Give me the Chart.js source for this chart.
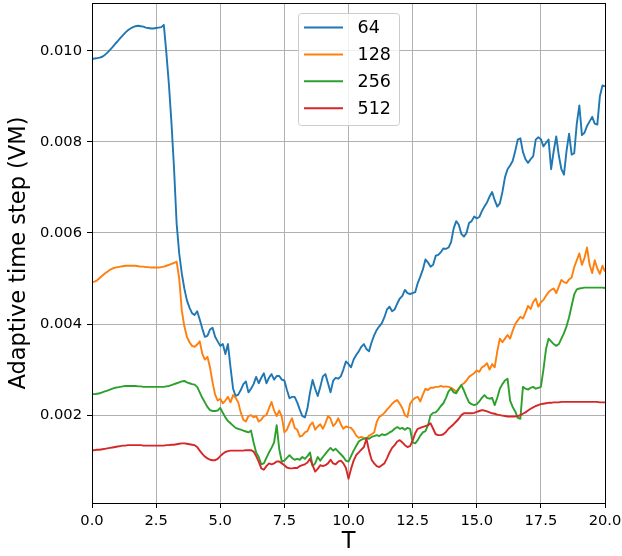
<!DOCTYPE html>
<html>
<head>
<meta charset="utf-8">
<title>Adaptive time step</title>
<script src="https://cdn.jsdelivr.net/npm/chart.js@4.4.1/dist/chart.umd.min.js"></script>
<style>
  html, body { margin: 0; padding: 0; background: #fff; }
  #wrap { width: 622px; height: 556px; }
</style>
</head>
<body>
<div id="wrap"><canvas id="chart" width="622" height="556"></canvas></div>
<script>
// sampling grid: T = 0.0, 0.1, ... 20.0
const T = Array.from({ length: 201 }, (_, i) => i / 10);

const seriesNames = ['64', '128', '256', '512'];
const xTicks = [0, 2.5, 5, 7.5, 10, 12.5, 15, 17.5, 20];
const yTicks = [0.002, 0.004, 0.006, 0.008, 0.010];

// values, one row per unit of T
const dt64 = [
  0.00982, 0.00983, 0.00984, 0.00985, 0.00987, 0.00991, 0.00996, 0.01002, 0.01008, 0.01015,
  0.01021, 0.01028, 0.01034, 0.01040, 0.01045, 0.01049, 0.01052, 0.01054, 0.01055, 0.01054,
  0.01053, 0.01051, 0.01050, 0.01049, 0.01049, 0.01050, 0.01051, 0.01052, 0.01057, 0.00995,
  0.00925, 0.00840, 0.00740, 0.00620, 0.00555, 0.00511, 0.00478, 0.00452, 0.00436, 0.00424,
  0.00420, 0.00428, 0.00410, 0.00390, 0.00372, 0.00374, 0.00388, 0.00392, 0.00372, 0.00362,
  0.00352, 0.00356, 0.00334, 0.00356, 0.00305, 0.00258, 0.00242, 0.00245, 0.00255, 0.00268,
  0.00274, 0.00250, 0.00258, 0.00268, 0.00284, 0.00270, 0.00282, 0.00292, 0.00270, 0.00282,
  0.00290, 0.00278, 0.00286, 0.00286, 0.00278, 0.00276, 0.00255, 0.00237, 0.00240, 0.00240,
  0.00228, 0.00212, 0.00198, 0.00195, 0.00215, 0.00250, 0.00277, 0.00258, 0.00242, 0.00262,
  0.00285, 0.00290, 0.00270, 0.00250, 0.00275, 0.00282, 0.00280, 0.00285, 0.00300, 0.00318,
  0.00312, 0.00305, 0.00322, 0.00332, 0.00340, 0.00350, 0.00356, 0.00345, 0.00340, 0.00360,
  0.00375, 0.00387, 0.00395, 0.00402, 0.00415, 0.00432, 0.00438, 0.00428, 0.00432, 0.00445,
  0.00456, 0.00462, 0.00475, 0.00468, 0.00466, 0.00468, 0.00470, 0.00490, 0.00504, 0.00520,
  0.00542, 0.00535, 0.00526, 0.00530, 0.00550, 0.00552, 0.00558, 0.00566, 0.00565, 0.00568,
  0.00580, 0.00610, 0.00626, 0.00618, 0.00598, 0.00592, 0.00600, 0.00622, 0.00626, 0.00636,
  0.00632, 0.00635, 0.00648, 0.00658, 0.00667, 0.00680, 0.00690, 0.00672, 0.00658, 0.00665,
  0.00690, 0.00722, 0.00740, 0.00748, 0.00758, 0.00780, 0.00805, 0.00808, 0.00778, 0.00762,
  0.00754, 0.00762, 0.00768, 0.00805, 0.00810, 0.00806, 0.00790, 0.00798, 0.00805, 0.00740,
  0.00780, 0.00812, 0.00770, 0.00740, 0.00728, 0.00780, 0.00818, 0.00772, 0.00775, 0.00840,
  0.00880, 0.00815, 0.00820, 0.00835, 0.00845, 0.00855, 0.00840, 0.00838, 0.00900, 0.00924,
  0.00922
];

const dt128 = [
  0.00492, 0.00493, 0.00496, 0.00501, 0.00506, 0.00511, 0.00515, 0.00519, 0.00522, 0.00524,
  0.00525, 0.00526, 0.00527, 0.00528, 0.00528, 0.00528, 0.00528, 0.00528, 0.00527, 0.00526,
  0.00526, 0.00525, 0.00525, 0.00524, 0.00524, 0.00524, 0.00524, 0.00525, 0.00526, 0.00528,
  0.00530, 0.00532, 0.00534, 0.00537, 0.00500, 0.00430, 0.00395, 0.00372, 0.00360, 0.00352,
  0.00350, 0.00355, 0.00362, 0.00335, 0.00322, 0.00328, 0.00305, 0.00272, 0.00245, 0.00232,
  0.00236, 0.00226, 0.00232, 0.00240, 0.00228, 0.00244, 0.00238, 0.00228, 0.00206, 0.00190,
  0.00186, 0.00198, 0.00200, 0.00195, 0.00198, 0.00186, 0.00190, 0.00198, 0.00200, 0.00215,
  0.00229, 0.00210, 0.00198, 0.00210, 0.00196, 0.00162, 0.00168, 0.00182, 0.00193, 0.00172,
  0.00168, 0.00153, 0.00155, 0.00162, 0.00165, 0.00178, 0.00184, 0.00168, 0.00175, 0.00180,
  0.00170, 0.00182, 0.00198, 0.00192, 0.00176, 0.00182, 0.00193, 0.00180, 0.00170, 0.00175,
  0.00173, 0.00172, 0.00165, 0.00155, 0.00150, 0.00152, 0.00150, 0.00148, 0.00155, 0.00158,
  0.00162, 0.00185, 0.00196, 0.00200, 0.00205, 0.00212, 0.00218, 0.00225, 0.00230, 0.00233,
  0.00225, 0.00215, 0.00200, 0.00196, 0.00225, 0.00233, 0.00238, 0.00240, 0.00230, 0.00245,
  0.00258, 0.00255, 0.00260, 0.00260, 0.00262, 0.00262, 0.00264, 0.00262, 0.00263, 0.00262,
  0.00260, 0.00256, 0.00252, 0.00258, 0.00266, 0.00270, 0.00276, 0.00284, 0.00288, 0.00292,
  0.00298, 0.00295, 0.00305, 0.00308, 0.00314, 0.00300, 0.00312, 0.00305, 0.00340, 0.00368,
  0.00360, 0.00368, 0.00376, 0.00368, 0.00385, 0.00400, 0.00408, 0.00416, 0.00412, 0.00425,
  0.00440, 0.00433, 0.00448, 0.00456, 0.00438, 0.00448, 0.00453, 0.00462, 0.00470, 0.00475,
  0.00478, 0.00468, 0.00482, 0.00497, 0.00492, 0.00490, 0.00498, 0.00502, 0.00525, 0.00540,
  0.00555, 0.00530, 0.00545, 0.00568, 0.00530, 0.00512, 0.00540, 0.00522, 0.00510, 0.00528,
  0.00515
];

const dt256 = [
  0.00246, 0.00246, 0.00247, 0.00248, 0.00250, 0.00252, 0.00254, 0.00256, 0.00258, 0.00260,
  0.00261, 0.00262, 0.00263, 0.00264, 0.00264, 0.00264, 0.00264, 0.00264, 0.00263, 0.00263,
  0.00262, 0.00262, 0.00262, 0.00262, 0.00262, 0.00262, 0.00262, 0.00262, 0.00262, 0.00263,
  0.00264, 0.00266, 0.00268, 0.00270, 0.00272, 0.00274, 0.00275, 0.00272, 0.00270, 0.00268,
  0.00267, 0.00262, 0.00250, 0.00238, 0.00228, 0.00218, 0.00211, 0.00209, 0.00209, 0.00210,
  0.00216, 0.00205, 0.00195, 0.00187, 0.00182, 0.00177, 0.00172, 0.00170, 0.00168, 0.00166,
  0.00164, 0.00162, 0.00166, 0.00140, 0.00118, 0.00108, 0.00092, 0.00094, 0.00106, 0.00118,
  0.00128, 0.00140, 0.00178, 0.00125, 0.00098, 0.00100, 0.00106, 0.00112, 0.00106, 0.00102,
  0.00104, 0.00102, 0.00108, 0.00104, 0.00110, 0.00118, 0.00088, 0.00094, 0.00108, 0.00100,
  0.00108, 0.00115, 0.00122, 0.00128, 0.00122, 0.00126, 0.00120, 0.00114, 0.00108, 0.00100,
  0.00098, 0.00110, 0.00122, 0.00132, 0.00142, 0.00146, 0.00148, 0.00150, 0.00148, 0.00152,
  0.00154, 0.00156, 0.00154, 0.00158, 0.00156, 0.00158, 0.00162, 0.00165, 0.00170, 0.00174,
  0.00170, 0.00172, 0.00168, 0.00172, 0.00170, 0.00140, 0.00138, 0.00145, 0.00155, 0.00162,
  0.00165, 0.00178, 0.00200, 0.00205, 0.00206, 0.00212, 0.00220, 0.00226, 0.00238, 0.00252,
  0.00258, 0.00250, 0.00248, 0.00258, 0.00266, 0.00254, 0.00240, 0.00228, 0.00224, 0.00222,
  0.00224, 0.00230, 0.00238, 0.00244, 0.00238, 0.00236, 0.00238, 0.00222, 0.00238, 0.00258,
  0.00268, 0.00276, 0.00280, 0.00232, 0.00218, 0.00208, 0.00194, 0.00192, 0.00262, 0.00258,
  0.00256, 0.00260, 0.00262, 0.00258, 0.00260, 0.00262, 0.00300, 0.00345, 0.00368, 0.00362,
  0.00356, 0.00352, 0.00356, 0.00368, 0.00380, 0.00395, 0.00415, 0.00440, 0.00465, 0.00476,
  0.00478, 0.00479, 0.00480, 0.00480, 0.00480, 0.00480, 0.00480, 0.00480, 0.00480, 0.00480,
  0.00479
];

const dt512 = [
  0.00123, 0.00123, 0.00124, 0.00124, 0.00125, 0.00126, 0.00127, 0.00128, 0.00129, 0.00130,
  0.00131, 0.00132, 0.00133, 0.00133, 0.00134, 0.00134, 0.00134, 0.00134, 0.00134, 0.00134,
  0.00133, 0.00133, 0.00133, 0.00133, 0.00133, 0.00133, 0.00133, 0.00133, 0.00133, 0.00134,
  0.00134, 0.00135, 0.00135, 0.00136, 0.00137, 0.00138, 0.00138, 0.00137, 0.00136, 0.00135,
  0.00134, 0.00130, 0.00122, 0.00115, 0.00109, 0.00105, 0.00102, 0.00101, 0.00101, 0.00104,
  0.00110, 0.00115, 0.00119, 0.00121, 0.00122, 0.00122, 0.00122, 0.00122, 0.00122, 0.00122,
  0.00123, 0.00123, 0.00123, 0.00120, 0.00110, 0.00098, 0.00083, 0.00080, 0.00088, 0.00094,
  0.00092, 0.00094, 0.00098, 0.00098, 0.00094, 0.00090, 0.00085, 0.00083, 0.00083, 0.00084,
  0.00084, 0.00088, 0.00090, 0.00092, 0.00096, 0.00104, 0.00090, 0.00076, 0.00082, 0.00090,
  0.00088, 0.00090, 0.00094, 0.00102, 0.00094, 0.00092, 0.00098, 0.00100, 0.00094, 0.00084,
  0.00060, 0.00082, 0.00100, 0.00112, 0.00118, 0.00124, 0.00130, 0.00148, 0.00122, 0.00102,
  0.00094, 0.00088, 0.00086, 0.00090, 0.00094, 0.00105, 0.00118, 0.00128, 0.00134, 0.00142,
  0.00145, 0.00140, 0.00134, 0.00130, 0.00132, 0.00144, 0.00160, 0.00170, 0.00172, 0.00174,
  0.00176, 0.00178, 0.00182, 0.00170, 0.00158, 0.00156, 0.00156, 0.00158, 0.00163, 0.00170,
  0.00175, 0.00180, 0.00186, 0.00192, 0.00200, 0.00204, 0.00204, 0.00204, 0.00204, 0.00205,
  0.00207, 0.00209, 0.00211, 0.00210, 0.00208, 0.00206, 0.00204, 0.00203, 0.00201, 0.00200,
  0.00199, 0.00198, 0.00197, 0.00197, 0.00197, 0.00197, 0.00198, 0.00200, 0.00203, 0.00206,
  0.00210, 0.00214, 0.00217, 0.00220, 0.00222, 0.00224, 0.00225, 0.00226, 0.00227, 0.00227,
  0.00228, 0.00228, 0.00228, 0.00229, 0.00229, 0.00229, 0.00229, 0.00229, 0.00229, 0.00229,
  0.00229, 0.00229, 0.00229, 0.00229, 0.00229, 0.00229, 0.00229, 0.00229, 0.00228, 0.00228,
  0.00228
];

const allSeries = [dt64, dt128, dt256, dt512];
const colors = ['#1f77b4', '#ff7f0e', '#2ca02c', '#d62728'];
const FONT = '"DejaVu Sans", Verdana, sans-serif';

// full black frame + matplotlib-like legend box
const frameAndLegend = {
  id: 'frameAndLegend',
  afterDatasetsDraw(chart) {
    const ctx = chart.ctx;
    const a = chart.chartArea;
    ctx.save();
    ctx.strokeStyle = '#000';
    ctx.lineWidth = 1;
    ctx.strokeRect(Math.round(a.left) + 0.5, Math.round(a.top) + 0.5,
      Math.round(a.right - a.left), Math.round(a.bottom - a.top));

    const bx = a.left + 206, by = a.top + 10, bw = 101, bh = 112;
    ctx.beginPath();
    ctx.roundRect(bx + 0.5, by + 0.5, bw, bh, 3);
    ctx.fillStyle = 'rgba(255,255,255,0.8)';
    ctx.fill();
    ctx.strokeStyle = '#cccccc';
    ctx.stroke();

    ctx.font = '17.5px ' + FONT;
    ctx.textBaseline = 'middle';
    ctx.textAlign = 'left';
    chart.data.datasets.forEach((ds, i) => {
      const cy = by + 14.5 + i * 26.9;
      ctx.beginPath();
      ctx.moveTo(bx + 6, cy);
      ctx.lineTo(bx + 45, cy);
      ctx.strokeStyle = ds.borderColor;
      ctx.lineWidth = 2;
      ctx.stroke();
      ctx.fillStyle = '#000';
      ctx.fillText(ds.label, bx + 59.5, cy + 1);
    });
    ctx.restore();
  }
};

const datasets = seriesNames.map((name, i) => ({
  label: name,
  data: T.map((t, j) => ({ x: t, y: allSeries[i][j] })),
  borderColor: colors[i],
  backgroundColor: colors[i],
  borderWidth: 1.9,
  borderJoinStyle: 'round',
  pointRadius: 0,
  fill: false,
  tension: 0,
  order: seriesNames.length - 1 - i
}));

new Chart(document.getElementById('chart'), {
  type: 'line',
  data: { datasets },
  options: {
    responsive: false,
    animation: false,
    layout: { padding: { left: 0, right: 17, top: 3, bottom: 0 } },
    plugins: { legend: { display: false }, tooltip: { enabled: false } },
    scales: {
      x: {
        type: 'linear',
        min: 0,
        max: 20,
        afterBuildTicks: s => { s.ticks = xTicks.map(v => ({ value: v })); },
        afterFit: s => { s.height = 53; s.paddingLeft = 0; s.paddingRight = 0; },
        ticks: {
          callback: v => v.toFixed(1),
          font: { family: FONT, size: 14.7 },
          color: '#000',
          padding: 4,
          maxRotation: 0
        },
        grid: { color: '#b0b0b0', lineWidth: 1, tickColor: '#000', tickLength: 5 },
        border: { color: '#000', width: 1 },
        title: {
          display: true,
          text: 'T',
          font: { family: FONT, size: 22.5, lineHeight: 1.2 },
          color: '#000',
          padding: { top: 0, bottom: 0 }
        }
      },
      y: {
        type: 'linear',
        min: 0.00007,
        max: 0.01105,
        afterBuildTicks: s => { s.ticks = yTicks.map(v => ({ value: v })); },
        afterFit: s => { s.width = 92; s.paddingTop = 0; s.paddingBottom = 0; },
        ticks: {
          callback: v => v.toFixed(3),
          font: { family: FONT, size: 14.7 },
          color: '#000',
          padding: 5
        },
        grid: { color: '#b0b0b0', lineWidth: 1, tickColor: '#000', tickLength: 5 },
        border: { color: '#000', width: 1 },
        title: {
          display: true,
          text: 'Adaptive time step (VM)',
          font: { family: FONT, size: 22.5, lineHeight: 1.2 },
          color: '#000',
          padding: { top: 6, bottom: 0 }
        }
      }
    }
  },
  plugins: [frameAndLegend]
});
</script>
</body>
</html>
